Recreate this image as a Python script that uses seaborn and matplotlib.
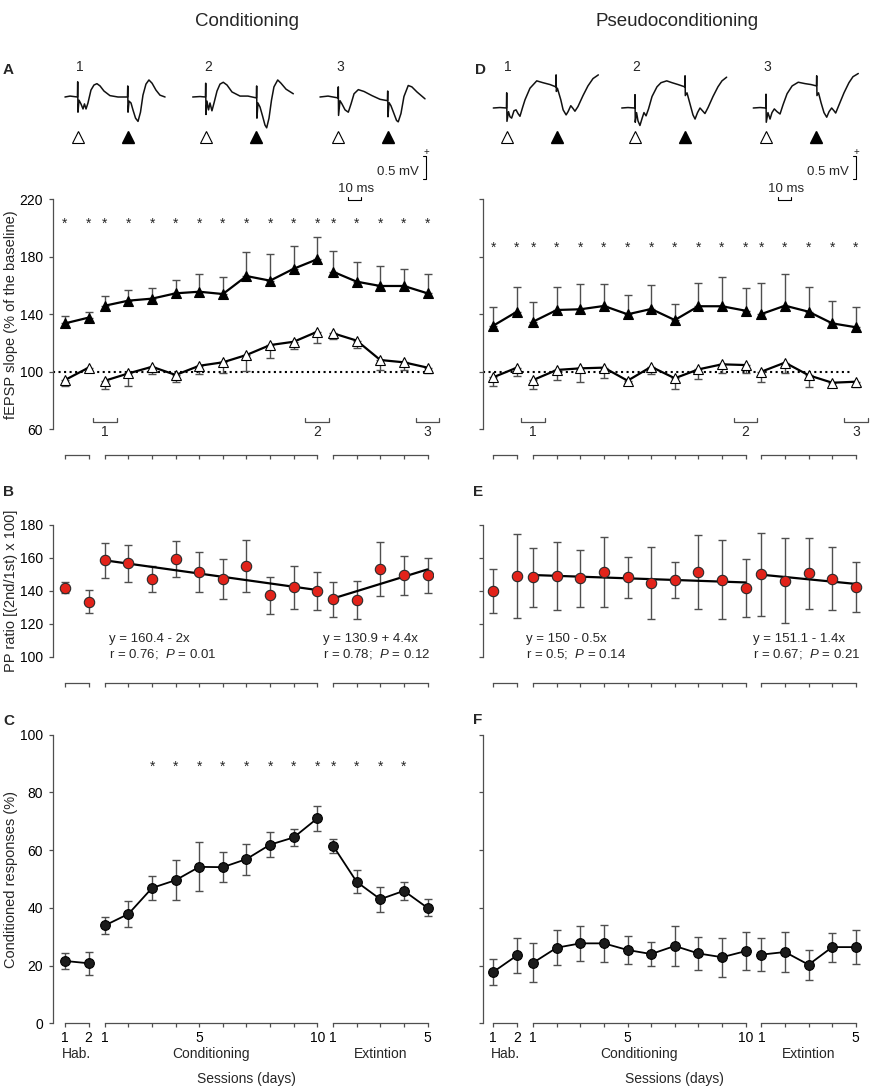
import numpy as np
import pandas as pd
import matplotlib
matplotlib.use("Agg")
import matplotlib.pyplot as plt
import seaborn as sns

# ---------------- sessions ----------------
group_labels = ["Hab.", "Conditioning", "Extintion"]
group_sizes = [2, 10, 5]
tick_labels = ["1", "2", "1", "", "", "", "5", "", "", "", "", "10", "1", "", "", "", "5"]

# ---------------- A: conditioning, fEPSP slope ----------------
a_s2_mean = [133.7, 137.7, 146.0, 149.5, 150.9, 154.6, 155.7, 154.1, 166.6, 163.4, 171.7, 178.3,
             169.6, 162.7, 159.7, 159.7, 154.6]
a_s2_err = [5.1, 3.9, 6.7, 7.4, 7.4, 9.3, 12.3, 12.1, 17.0, 18.6, 15.8, 15.3, 14.6, 13.9, 13.9, 12.0, 13.2]
a_s1_mean = [94.3, 102.9, 93.8, 98.9, 103.5, 97.8, 104.2, 106.6, 111.7, 118.6, 120.9, 127.9,
             126.8, 121.7, 108.2, 106.6, 102.9]
a_s1_err = [4.0, 2.6, 6.0, 8.6, 5.0, 4.8, 5.9, 7.2, 10.9, 9.2, 5.3, 7.7, 4.2, 5.4, 6.9, 5.3, 4.0]
a_stars = [1] * 17

# ---------------- D: pseudoconditioning, fEPSP slope ----------------
d_s2_mean = [132.1, 141.8, 134.9, 143.0, 143.5, 145.8, 140.0, 143.7, 136.0, 145.6, 145.6, 142.5,
             140.2, 146.0, 141.8, 133.7, 131.0]
d_s2_err = [13.2, 17.0, 13.4, 15.8, 17.6, 15.5, 13.4, 16.7, 11.4, 16.2, 20.1, 15.8, 21.8, 21.8, 17.4, 15.6, 13.9]
d_s1_mean = [96.2, 102.9, 94.3, 101.3, 102.4, 102.9, 93.8, 103.5, 95.5, 101.7, 105.2, 104.7,
             100.1, 106.4, 97.6, 92.4, 93.1]
d_s1_err = [6.1, 5.6, 6.5, 7.0, 9.7, 7.4, 1.8, 5.2, 7.7, 6.7, 6.3, 5.3, 7.4, 7.0, 8.0, 2.8, 3.5]
d_stars = [1] * 17

# ---------------- B / E: paired-pulse ratio ----------------
b_mean = [141.8, 133.3, 158.6, 156.6, 147.1, 159.2, 151.3, 147.1, 155.0, 137.2, 142.0, 140.0,
          134.8, 134.4, 153.2, 149.3, 149.3]
b_err = [3.2, 7.0, 10.6, 11.2, 7.6, 10.8, 12.1, 12.0, 15.9, 11.3, 13.0, 11.5, 10.7, 11.4, 16.5, 11.9, 10.7]
b_fit_cond = (160.4, -2.0)
b_fit_ext = (130.9, 4.4)
b_text_cond = ["y = 160.4 - 2x", r"r = 0.76;  $\mathit{P}$ = 0.01"]
b_text_ext = ["y = 130.9 + 4.4x", r"r = 0.78;  $\mathit{P}$ = 0.12"]

e_mean = [140.0, 148.9, 148.1, 149.1, 147.5, 151.2, 148.1, 144.5, 146.7, 151.5, 146.7, 141.5,
          149.9, 146.1, 150.5, 147.3, 142.2]
e_err = [13.3, 25.6, 18.0, 20.5, 17.3, 21.3, 12.4, 21.8, 10.9, 22.3, 24.0, 17.7, 25.0, 25.7, 21.3, 19.0, 15.0]
e_fit_cond = (150.0, -0.5)
e_fit_ext = (151.1, -1.4)
e_text_cond = ["y = 150 - 0.5x", r"r = 0.5;  $\mathit{P}$ = 0.14"]
e_text_ext = ["y = 151.1 - 1.4x", r"r = 0.67;  $\mathit{P}$ = 0.21"]

# ---------------- C / F: conditioned responses (%) ----------------
c_mean = [21.6, 20.8, 33.9, 37.9, 46.9, 49.6, 54.2, 54.1, 56.9, 61.9, 64.4, 71.0,
          61.5, 49.0, 43.0, 45.9, 40.0]
c_err = [2.7, 4.0, 3.0, 4.4, 4.2, 7.0, 8.5, 5.1, 5.4, 4.3, 2.8, 4.2, 2.5, 4.0, 4.3, 3.2, 2.9]
c_stars = [0, 0, 0, 0, 1, 1, 1, 1, 1, 1, 1, 1, 1, 1, 1, 1, 0]

f_mean = [17.8, 23.5, 21.0, 26.2, 27.7, 27.7, 25.4, 24.0, 26.8, 24.2, 22.9, 25.0,
          23.8, 24.7, 20.3, 26.4, 26.4]
f_err = [4.6, 6.1, 6.7, 6.1, 6.0, 6.5, 4.8, 4.0, 6.8, 5.7, 6.7, 6.5, 5.8, 6.9, 5.2, 5.0, 6.0]

# ---------------- example fEPSP traces (ms from 1st pulse, mV from baseline) ----------------
cond_tr1_t = [-9.8, -5.9, -0.2, 0, 0.2, 1.0, 2.5, 4.1, 5.2, 6.4, 7.9, 10.2, 12.5, 14.8, 17.2, 20.2, 24.8,
              31, 38.3, 38.5, 38.7, 39.5, 41, 42.5, 44.5, 46.4, 48.3, 50.2, 52.5, 54.8, 57.2, 60.2, 63.3, 67.2]
cond_tr1_v = [0, 0.02, 0, 0.33, -0.33, -0.07, -0.15, -0.26, -0.15, -0.26, -0.13, 0.15, 0.26, 0.29, 0.24,
              0.13, 0.03, 0, 0, 0.24, -0.33, -0.09, -0.13, -0.28, -0.46, -0.53, -0.33, 0.04, 0.28, 0.37,
              0.30, 0.15, 0.04, 0]
cond_tr2_t = [-10, -4.4, -0.2, 0, 0.2, 1, 2.2, 3.3, 4.8, 6.4, 8.7, 11, 13.5, 16.4, 20.2, 26.4, 32.5, 39,
              39.2, 39.4, 40.2, 41.8, 43.7, 45.6, 46.9, 48.7, 50.6, 52.5, 55.4, 57.9, 61.8, 67.4]
cond_tr2_v = [0, 0.01, 0, 0.30, -0.38, -0.09, -0.28, -0.13, -0.30, -0.13, 0.13, 0.28, 0.32, 0.26, 0.11,
              0.02, 0.02, -0.02, 0.24, -0.46, -0.13, -0.22, -0.41, -0.61, -0.67, -0.46, -0.07, 0.22,
              0.37, 0.30, 0.17, 0.07]
cond_tr3_t = [-14.1, -7.9, -0.2, 0, 0.2, 1.3, 2.8, 5.2, 7.7, 9.8, 12.1, 15.4, 19.8, 25.9, 32.1, 37.8, 38,
              38.2, 39, 40.5, 42.8, 44.8, 46.1, 48.2, 50.5, 53.8, 56.6, 60.5, 66.7]
cond_tr3_v = [0, 0.02, -0.02, 0.22, -0.4, -0.08, -0.15, -0.28, -0.33, -0.15, 0.07, 0.16, 0.12, 0.03,
              -0.05, -0.08, 0.13, -0.43, -0.12, -0.19, -0.36, -0.51, -0.54, -0.36, 0.01, 0.25, 0.22,
              0.11, -0.04]
pseudo_tr1_t = [-10.3, -5.2, -0.2, 0, 0.2, 1.4, 2.5, 3.8, 5.6, 7.2, 8.7, 10.2, 12.2, 14.1, 17.9, 23.1,
                27.9, 33.3, 37.8, 38, 38.2, 39, 41.6, 43.4, 45.7, 47.2, 49.3, 51, 52.5, 54.8, 58.7,
                62.5, 66.4, 70.5]
pseudo_tr1_v = [0, 0.01, 0, 0.33, -0.29, -0.08, -0.19, -0.22, -0.06, -0.04, -0.12, -0.18, 0.01, 0.18,
                0.43, 0.59, 0.55, 0.51, 0.46, 0.72, 0.36, 0.43, 0.18, -0.04, -0.15, -0.08, 0.05, -0.01,
                -0.07, 0.03, 0.27, 0.48, 0.64, 0.72]
pseudo_tr2_t = [-10.2, -5.4, -0.2, 0, 0.2, 1.2, 2.3, 3.8, 5.4, 6.9, 8.5, 10.4, 13.1, 16.9, 20, 24.4,
                28.5, 33.1, 38.3, 38.5, 38.7, 40, 42.3, 44.6, 46.2, 48.1, 50, 51.9, 53.8, 56.2, 60,
                63.8, 66.9, 70.5]
pseudo_tr2_v = [0, 0.01, 0, 0.29, -0.31, -0.10, -0.28, -0.38, -0.23, -0.10, -0.17, -0.02, 0.25, 0.46,
                0.55, 0.59, 0.55, 0.51, 0.46, 0.70, 0.27, 0.33, 0.09, -0.15, -0.24, -0.10, 0, -0.06,
                -0.12, 0.01, 0.25, 0.46, 0.59, 0.67]
pseudo_tr3_t = [-9.8, -4.6, -0.2, 0, 0.2, 1.5, 3.1, 4.6, 6.4, 8.5, 10.8, 13.1, 16.2, 20.1, 24.8, 30,
                34.6, 38.8, 39, 39.2, 40.4, 42.3, 44.6, 46.7, 48.5, 50.5, 52.3, 53.6, 56.2, 60, 63.8,
                66.9, 71]
pseudo_tr3_v = [0, 0.01, 0, 0.30, -0.31, -0.10, -0.24, -0.10, -0.02, -0.08, -0.13, 0.07, 0.31, 0.48,
                0.56, 0.53, 0.51, 0.48, 0.70, 0.27, 0.33, 0.12, -0.10, -0.20, -0.08, 0, -0.06, -0.11,
                0.07, 0.33, 0.55, 0.68, 0.75]

# ---------------- style / layout ----------------
sns.set_theme(style="ticks")
plt.rcParams["font.family"] = ["Liberation Sans", "DejaVu Sans"]
plt.rcParams["mathtext.fontset"] = "custom"
plt.rcParams["mathtext.rm"] = "Liberation Sans"
plt.rcParams["mathtext.it"] = "Liberation Sans:italic"

GRAY = "#4f4f4f"
RED = "#e2231a"
DARK = "#1b1b1b"
W, H = 873, 1087
PX_UNIT = 23.6            # pixels per session step
AX_W = 380
group_starts = [0.0, 1.69, 11.36]

fig = plt.figure(figsize=(W / 100, H / 100), dpi=100)


def rect(left, top, w, h):
    return [left / W, 1 - (top + h) / H, w / W, h / H]


def session_x():
    return np.concatenate([s + np.arange(n) for s, n in zip(group_starts, group_sizes)])


seg_id = np.repeat(np.arange(len(group_sizes)), group_sizes)
X = session_x()


def setup_axes(left_px, top_px, h_px, xleft, ylim, yticks, ylabels, offset_pt):
    ax = fig.add_axes(rect(left_px, top_px, AX_W, h_px))
    ax.set_xlim(xleft, xleft + AX_W / PX_UNIT)
    ax.set_ylim(*ylim)
    ax.set_yticks(yticks)
    if not ylabels:
        ax.set_yticklabels([])
    for s in ["top", "right"]:
        ax.spines[s].set_visible(False)
    ax.spines["left"].set_color(GRAY)
    ax.spines["left"].set_linewidth(0.9)
    ax.spines["bottom"].set_position(("outward", offset_pt))
    ax.spines["bottom"].set_visible(False)
    ax.set_xticks(X)
    ax.tick_params(axis="both", direction="out", length=3, width=0.9, color=GRAY,
                   labelsize=10, labelcolor="black")
    ax.tick_params(axis="y", pad=4.5)
    ax.tick_params(axis="x", pad=2.5, labelbottom=False)
    trans = ax.get_xaxis_transform(which="tick1")
    for s, n in zip(group_starts, group_sizes):
        ax.plot([s, s + n - 1], [0, 0], transform=trans, color=GRAY, lw=0.9,
                clip_on=False, solid_capstyle="projecting")
    ax.patch.set_alpha(0)
    return ax


def draw_errors(ax, mean, err, side):
    err = np.asarray(err)
    zero = np.zeros_like(err)
    yerr = {"up": [zero, err], "down": [err, zero], "both": [err, err]}[side]
    ax.errorbar(X, mean, yerr=yerr, fmt="none", ecolor=GRAY, elinewidth=1.0,
                capsize=3, capthick=1.0, zorder=2)


def draw_line(ax, mean, marker, face, ms, lw):
    df = pd.DataFrame({"x": X, "y": mean, "seg": seg_id})
    sns.lineplot(data=df, x="x", y="y", units="seg", estimator=None, sort=False,
                 color="black", lw=lw, marker=marker, markersize=ms,
                 markerfacecolor=face, markeredgecolor="black", markeredgewidth=0.8,
                 ax=ax, zorder=3, legend=False)
    ax.set_xlabel("")
    ax.set_ylabel("")


def draw_stars(ax, flags, y):
    for x, f in zip(X, flags):
        if f:
            ax.text(x, y, "*", ha="center", va="center", fontsize=10)


def draw_brackets(ax):
    # session 1, 10 and extinction 5 = traces 1, 2, 3
    for k, idx in enumerate([2, 11, 16]):
        x = X[idx]
        ax.plot([x - 0.5, x - 0.5, x + 0.5, x + 0.5], [68.1, 65.3, 65.3, 68.1],
                color=GRAY, lw=0.9, clip_on=False)
        ax.text(x, 58.0, str(k + 1), ha="center", va="center", fontsize=10, clip_on=False)


def fepsp_panel(left_px, xleft, s2_mean, s2_err, s1_mean, s1_err, stars, star_y, dot_end, labels):
    ax = setup_axes(left_px, 199.3, 230, xleft, (60, 220), [60, 100, 140, 180, 220], labels, 18.5)
    ax.plot([xleft, dot_end], [100, 100], ls=":", color="black", lw=1.5, zorder=1)
    draw_errors(ax, s2_mean, s2_err, "up")
    draw_errors(ax, s1_mean, s1_err, "down")
    draw_line(ax, s2_mean, "^", "black", 7.5, 1.6)
    draw_line(ax, s1_mean, "^", "white", 7.5, 1.6)
    draw_stars(ax, stars, star_y)
    draw_brackets(ax)
    return ax


def pp_panel(left_px, xleft, mean, err, fit_c, fit_e, txt_c, txt_e, tx_c, tx_e, labels):
    ax = setup_axes(left_px, 524.7, 132, xleft, (100, 180), [100, 120, 140, 160, 180], labels, 18.9)
    draw_errors(ax, mean, err, "both")
    for (a, b), sl in [(fit_c, slice(2, 12)), (fit_e, slice(12, 17))]:
        days = np.arange(1, sl.stop - sl.start + 1)
        fit = pd.DataFrame({"x": X[sl], "y": a + b * days})
        sns.lineplot(data=fit, x="x", y="y", color="black", lw=1.6, ax=ax, zorder=2.5)
    df = pd.DataFrame({"x": X, "y": mean})
    sns.scatterplot(data=df, x="x", y="y", color=RED, s=56, edgecolor="#2a2a2a",
                    linewidth=0.8, ax=ax, zorder=3)
    ax.set_xlabel("")
    ax.set_ylabel("")
    for tx, lines in [(tx_c, txt_c), (tx_e, txt_e)]:
        ax.text(tx, 110.7, lines[0], ha="left", va="center", fontsize=9.5)
        ax.text(tx, 101.4, lines[1], ha="left", va="center", fontsize=9.5)
    return ax


def cr_panel(left_px, xleft, mean, err, stars, labels):
    ax = setup_axes(left_px, 734.7, 288.6, xleft, (0, 100), [0, 20, 40, 60, 80, 100], labels, 0)
    draw_errors(ax, mean, err, "both")
    draw_line(ax, mean, "o", DARK, 7.0, 1.3)
    ax.tick_params(axis="x", labelbottom=True)
    ax.set_xticklabels(tick_labels)
    if stars is not None:
        draw_stars(ax, stars, 89.0)
    trans = ax.get_xaxis_transform()
    mids = [s + (n - 1) / 2 for s, n in zip(group_starts, group_sizes)]
    for m, lab in zip(mids, group_labels):
        ax.text(m, -0.106, lab, transform=trans, ha="center", va="center", fontsize=10)
    ax.text(7.68, -0.193, "Sessions (days)", transform=trans, ha="center", va="center", fontsize=10)
    return ax


def trace_panel(left_px, ref_px, traces, onsets_px, num_dx):
    # inset in ms / mV: 1.3 px per ms, 46 px per mV
    ax = fig.add_axes(rect(left_px, 55, 390, 150))
    ax.set_xlim(0, 300)
    ax.set_ylim((ref_px - 205) / 46, (ref_px - 55) / 46)
    ax.axis("off")
    v = lambda ypx: (ref_px - ypx) / 46
    for k, ((t, vv), on) in enumerate(zip(traces, onsets_px)):
        t0 = (on - left_px) / 1.3
        ax.plot(t0 + np.asarray(t), np.asarray(vv), color="#111111", lw=1.1)
        ax.plot([t0], [v(137)], marker="^", ms=8, mfc="white", mec="black", mew=0.8, ls="none")
        ax.plot([t0 + 38.6], [v(137)], marker="^", ms=8, mfc="black", mec="black", ls="none")
        ax.text(t0 + num_dx, v(67), str(k + 1), ha="center", va="center", fontsize=10)
    # scale bars
    ax.plot([287.2, 289.5, 289.5, 287.2], [v(179) + 0.5, v(179) + 0.5, v(179), v(179)],
            color="black", lw=0.8, clip_on=False)
    ax.text(289.5, v(152), "+", ha="center", va="center", fontsize=7)
    ax.text(283.8, v(172), "0.5 mV", ha="right", va="center", fontsize=9.5)
    ax.plot([229.6, 229.6, 239.6, 239.6], [v(197), v(200), v(200), v(197)],
            color="black", lw=0.8, clip_on=False)
    ax.text(235.4, v(189.5), "10 ms", ha="center", va="center", fontsize=9.5)
    return ax


# ---- left column: conditioning ----
LX, RX = 53.3, 483.3
lxl, rxl = -0.496, -0.424

fepsp_panel(LX, lxl, a_s2_mean, a_s2_err, a_s1_mean, a_s1_err, a_stars, 203.0, 15.56, True)
pp_panel(LX, lxl, b_mean, b_err, b_fit_cond, b_fit_ext, b_text_cond, b_text_ext, 1.86, 10.95, True)
cr_panel(LX, lxl, c_mean, c_err, c_stars, True)
trace_panel(50, 97, [(cond_tr1_t, cond_tr1_v), (cond_tr2_t, cond_tr2_v), (cond_tr3_t, cond_tr3_v)],
            [77.7, 205.7, 338.3], 1.8)

# ---- right column: pseudoconditioning ----
fepsp_panel(RX, rxl, d_s2_mean, d_s2_err, d_s1_mean, d_s1_err, d_stars, 186.0, 15.1, False)
pp_panel(RX, rxl, e_mean, e_err, e_fit_cond, e_fit_ext, e_text_cond, e_text_ext, 1.37, 10.99, False)
cr_panel(RX, rxl, f_mean, f_err, None, False)
trace_panel(480, 108, [(pseudo_tr1_t, pseudo_tr1_v), (pseudo_tr2_t, pseudo_tr2_v),
                       (pseudo_tr3_t, pseudo_tr3_v)], [506.7, 635.0, 766.0], 1.2)

# ---- titles, letters, y labels ----
fig.text(246.7 / W, 1 - 22 / H, "Conditioning", ha="center", va="center", fontsize=13.5)
fig.text(676.7 / W, 1 - 22 / H, "Pseudoconditioning", ha="center", va="center", fontsize=13.5)
for lab, x, y in [("A", 8.5, 70), ("B", 8.5, 492.5), ("C", 8.5, 721),
                  ("D", 480, 70), ("E", 478, 492), ("F", 478, 720.5)]:
    fig.text(x / W, 1 - y / H, lab, ha="center", va="center", fontsize=11, fontweight="bold")
for txt, y in [("fEPSP slope (% of the baseline)", 314.3), ("PP ratio [(2nd/1st) x 100]", 590.7),
               ("Conditioned responses (%)", 879.0)]:
    fig.text(11 / W, 1 - y / H, txt, rotation=90, ha="center", va="center", fontsize=10.5)

fig.savefig("out.png", dpi=100)
